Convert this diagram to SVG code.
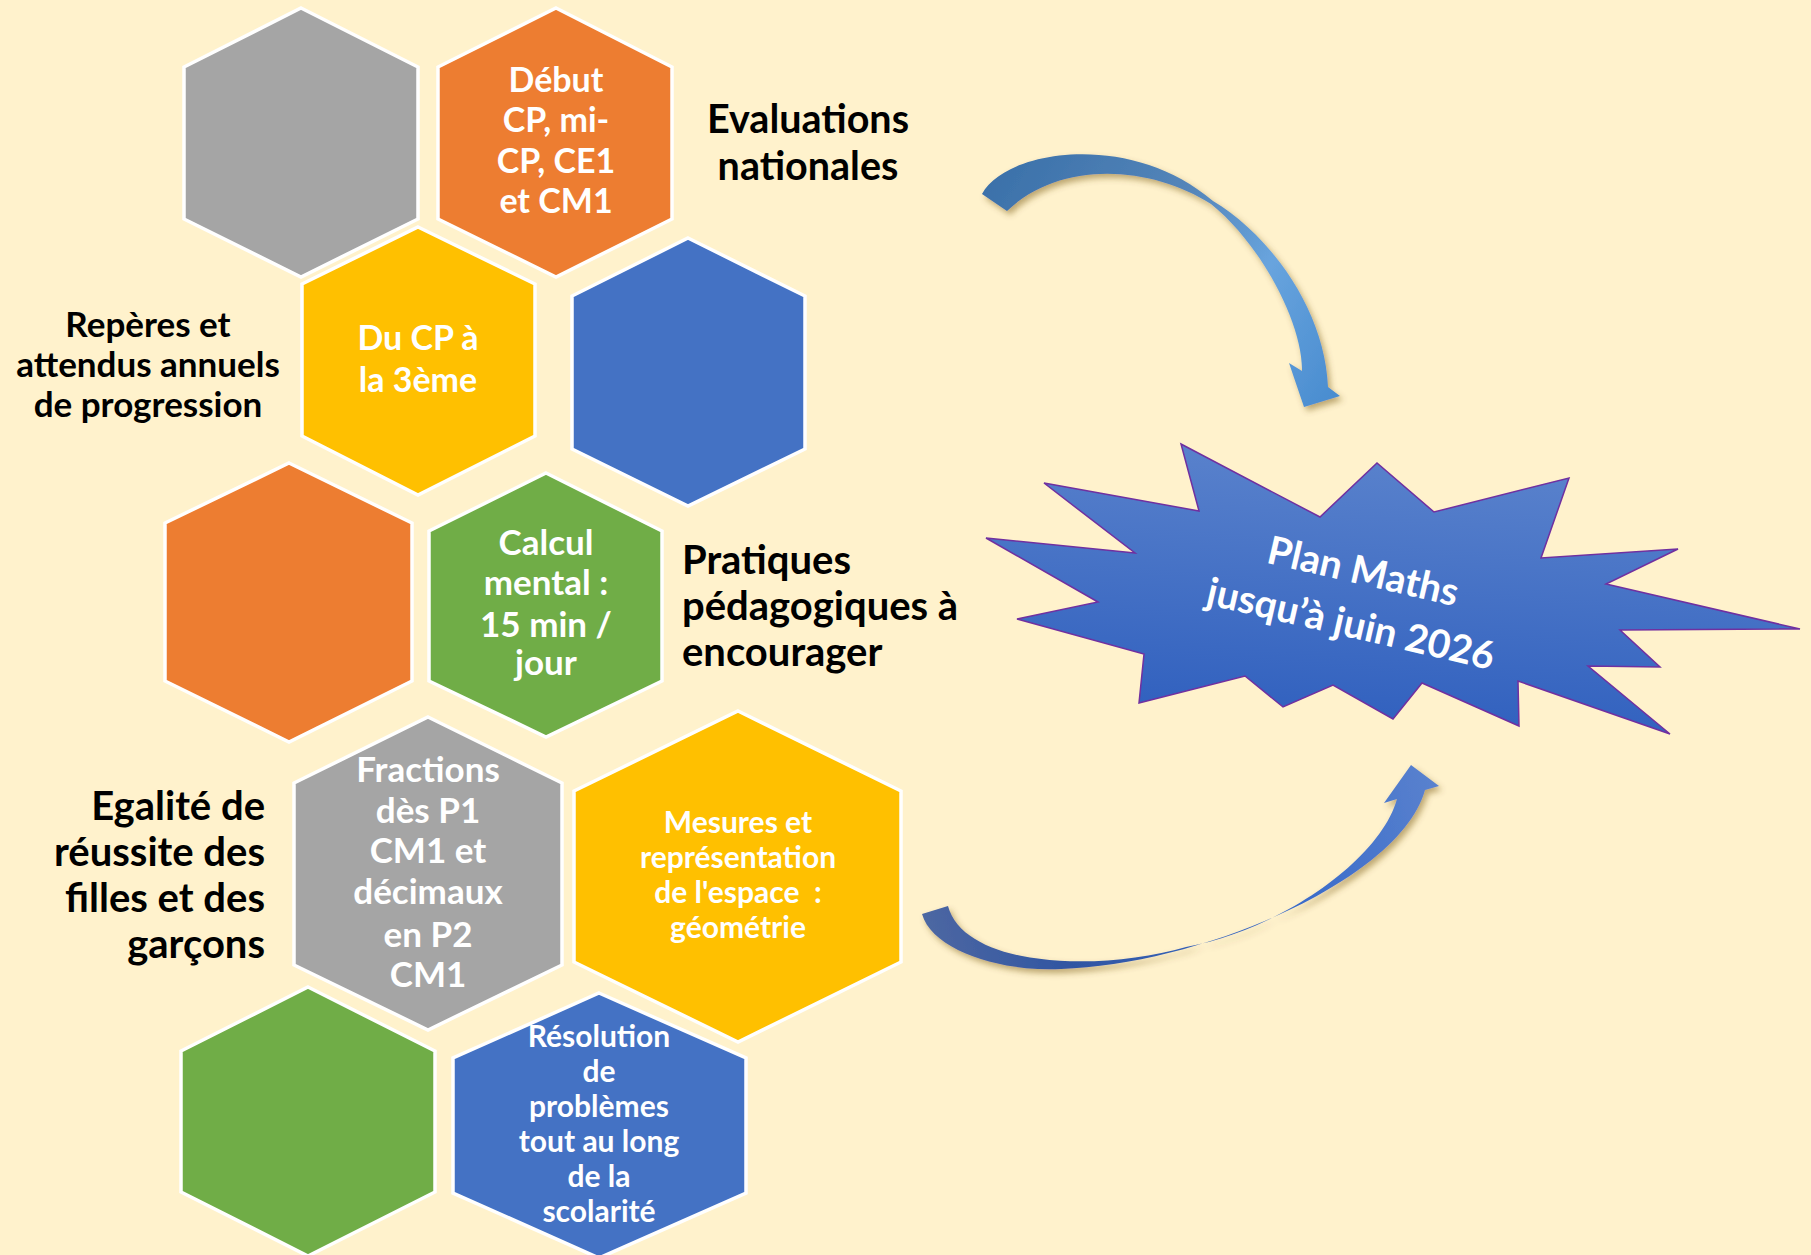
<svg xmlns="http://www.w3.org/2000/svg" width="1811" height="1255" viewBox="0 0 1811 1255">
<style>
.hex{stroke:#ffffff;stroke-width:3.5;stroke-linejoin:miter}
.gray{fill:#a5a5a5}.orange{fill:#ed7d31}.yellow{fill:#ffc000}.blue{fill:#4472c4}.green{fill:#70ad47}
.t{font-family:Lato,"Liberation Sans",sans-serif;font-weight:700}
.ht{fill:#ffffff;text-anchor:middle}
.lb{fill:#000000}
</style>
<defs>
<linearGradient id="gTop" gradientUnits="userSpaceOnUse" x1="982" y1="180" x2="1330" y2="400">
<stop offset="0" stop-color="#3a70a9"/><stop offset="0.45" stop-color="#5586ba"/><stop offset="0.7" stop-color="#68a4de"/><stop offset="1" stop-color="#4a8dd0"/>
</linearGradient>
<linearGradient id="gBot" gradientUnits="userSpaceOnUse" x1="922" y1="930" x2="1440" y2="780">
<stop offset="0" stop-color="#4e68a2"/><stop offset="0.25" stop-color="#2f55a2"/><stop offset="0.7" stop-color="#3a6cca"/><stop offset="1" stop-color="#5a82ce"/>
</linearGradient>
<linearGradient id="gStar" x1="0.6" y1="0" x2="0.4" y2="1">
<stop offset="0" stop-color="#5c84cd"/><stop offset="1" stop-color="#2f5fbe"/>
</linearGradient>
<filter id="sh" x="-10%" y="-10%" width="130%" height="130%">
<feDropShadow dx="3" dy="4" stdDeviation="3" flood-color="#6b4a10" flood-opacity="0.45"/>
</filter>
</defs>
<rect x="0" y="0" width="1811" height="1255" fill="#fff2cc"/>

<g id="hex-gray-top"><polygon class="hex gray" points="301,8 418,67 418,219 301,277 184,219 184,67"/></g>
<g id="hex-evaluations">
<polygon class="hex orange" points="556,8 672,67 672,219 556,277 438,219 438,67"/>
<text class="t ht" font-size="34"><tspan x="556" y="92">Début</tspan><tspan x="556" y="132">CP, mi-</tspan><tspan x="556" y="173">CP, CE1</tspan><tspan x="556" y="213">et CM1</tspan></text>
</g>
<g id="hex-reperes">
<polygon class="hex yellow" points="418,227 535,284 535,436 418,495 302,436 302,284"/>
<text class="t ht" font-size="34"><tspan x="418" y="350">Du CP à</tspan><tspan x="418" y="392">la 3ème</tspan></text>
</g>
<g id="hex-blue-top"><polygon class="hex blue" points="688,238 805,296 805,449 688,506 572,449 572,296"/></g>
<g id="hex-orange-mid"><polygon class="hex orange" points="289,463 412,523 412,681 289,742 165,681 165,523"/></g>
<g id="hex-calcul">
<polygon class="hex green" points="546,473 662,531 662,681 546,737 429,681 429,531"/>
<text class="t ht" font-size="35"><tspan x="546" y="555">Calcul</tspan><tspan x="546" y="595">mental :</tspan><tspan x="546" y="637">15 min /</tspan><tspan x="546" y="675">jour</tspan></text>
</g>
<g id="hex-fractions">
<polygon class="hex gray" points="428,717 562,783 562,965 428,1030 294,965 294,783"/>
<text class="t ht" font-size="35"><tspan x="428" y="782">Fractions</tspan><tspan x="428" y="823">dès P1</tspan><tspan x="428" y="863">CM1 et</tspan><tspan x="428" y="904">décimaux</tspan><tspan x="428" y="947">en P2</tspan><tspan x="428" y="987">CM1</tspan></text>
</g>
<g id="hex-mesures">
<polygon class="hex yellow" points="738,711 901,791 901,962 738,1042 574,962 574,791"/>
<text class="t ht" font-size="30"><tspan x="738" y="833">Mesures et</tspan><tspan x="738" y="868">représentation</tspan><tspan x="738" y="903">de l'espace&#160; :</tspan><tspan x="738" y="938">géométrie</tspan></text>
</g>
<g id="hex-green-bottom"><polygon class="hex green" points="308,987 435,1051 435,1192 308,1256 181,1192 181,1051"/></g>
<g id="hex-resolution">
<polygon class="hex blue" points="599,993 746,1058 746,1193 599,1258 453,1193 453,1058"/>
<text class="t ht" font-size="30"><tspan x="599" y="1047">Résolution</tspan><tspan x="599" y="1082">de</tspan><tspan x="599" y="1117">problèmes</tspan><tspan x="599" y="1152">tout au long</tspan><tspan x="599" y="1187">de la</tspan><tspan x="599" y="1222">scolarité</tspan></text>
</g>

<g id="label-evaluations"><text class="t lb" font-size="39.5" text-anchor="middle"><tspan x="808" y="133">Evaluations</tspan><tspan x="808" y="180">nationales</tspan></text></g>
<g id="label-reperes"><text class="t lb" font-size="35" text-anchor="middle"><tspan x="148" y="337">Repères et</tspan><tspan x="148" y="377">attendus annuels</tspan><tspan x="148" y="417">de progression</tspan></text></g>
<g id="label-pratiques"><text class="t lb" font-size="40"><tspan x="682" y="574">Pratiques</tspan><tspan x="682" y="620">pédagogiques à</tspan><tspan x="682" y="666">encourager</tspan></text></g>
<g id="label-egalite"><text class="t lb" font-size="40" text-anchor="end"><tspan x="265" y="820">Egalité de</tspan><tspan x="265" y="866">réussite des</tspan><tspan x="265" y="912">filles et des</tspan><tspan x="265" y="958">garçons</tspan></text></g>

<g id="plan-maths">
<polygon points="1181,444 1320,517 1377,463 1434,512 1569,478 1541,558 1678,549 1606,584 1800,629 1620,630 1660,667 1588,666 1670,734 1518,681 1519,726 1422,683 1393,719 1333,685 1283,707 1245,676 1139,703 1144,654 1017,619 1098,602 986,538 1135,553 1044,483 1199,511" fill="url(#gStar)" stroke="#7030a0" stroke-width="1.5" stroke-linejoin="miter"/>
<g transform="translate(1357,598) rotate(13)">
<text class="t" fill="#ffffff" font-size="39" text-anchor="middle"><tspan x="0" y="-14">Plan Maths</tspan><tspan x="0" y="40">jusqu’à juin 2026</tspan></text>
</g>
</g>

<g id="connectors">
<path id="arrow-top" filter="url(#sh)" fill="url(#gTop)" d="M 982,194 C 1005,150 1130,130 1213,201 C 1270,235 1325,310 1328,387 L 1340,396 L 1304,407 L 1289,363 L 1302,371 C 1303,325 1262,245 1211,204 C 1150,165 1060,160 1007,211 Z"/>
<path id="arrow-bottom" filter="url(#sh)" fill="url(#gBot)" d="M 922,914 C 932,950 1000,972 1061,969 C 1200,965 1400,880 1425,790 L 1439,786 L 1411,765 L 1384,803 L 1397,799 C 1380,860 1280,930 1186,947 C 1100,972 965,968 948,906 Z"/>
</g>
</svg>
